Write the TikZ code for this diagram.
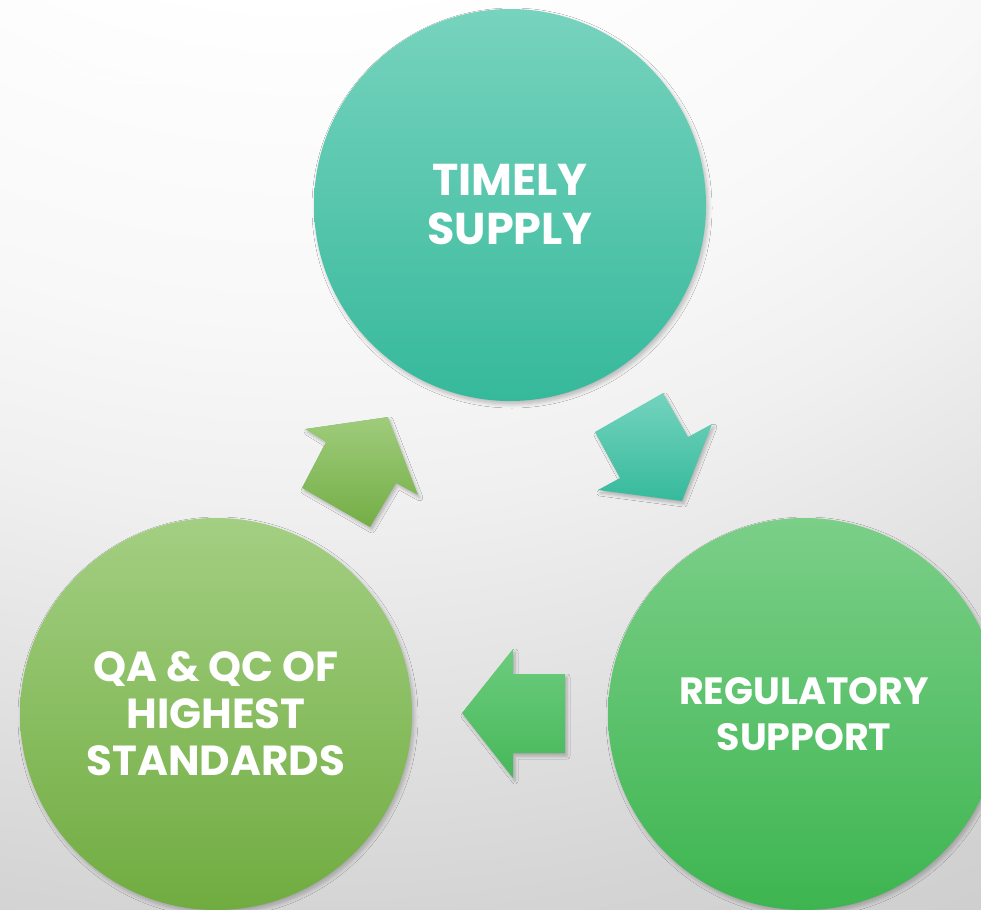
\documentclass[tikz,border=0pt]{standalone}
\usepackage{fontspec}
\setmainfont{Poppins}[BoldFont={* Bold}]
\usetikzlibrary{shadows.blur}
\definecolor{tealA}{HTML}{77D3BE}
\definecolor{tealB}{HTML}{36B99B}
\definecolor{greenA}{HTML}{7BCF88}
\definecolor{greenB}{HTML}{3DB550}
\definecolor{limeA}{HTML}{A3CF82}
\definecolor{limeB}{HTML}{70AC40}
\definecolor{upA}{HTML}{9FCC7C}
\definecolor{upB}{HTML}{74AE45}
\definecolor{dnA}{HTML}{74D3BE}
\definecolor{dnB}{HTML}{36BA9C}
\definecolor{lfA}{HTML}{6CCC7D}
\definecolor{lfB}{HTML}{46B85A}
\definecolor{bg0}{HTML}{FDFDFD}
\definecolor{bg1}{HTML}{F8F8F8}
\definecolor{bg2}{HTML}{F0F0F0}
\definecolor{bg3}{HTML}{E2E2E2}
\definecolor{bg4}{HTML}{D4D4D4}
\definecolor{bg5}{HTML}{CDCDCD}
\pgfdeclareradialshading{bgshade}{\pgfpoint{0bp}{0bp}}{%
  color(0bp)=(white); color(8.8bp)=(white); color(9.85bp)=(bg0);
  color(13.5bp)=(bg1); color(16.2bp)=(bg2); color(19.3bp)=(bg3);
  color(22.4bp)=(bg4); color(25bp)=(bg5); color(50bp)=(bg5)}
\tikzset{
  bubble/.style={circle, minimum size=392pt, inner sep=0pt, align=center,
    text=white, font=\bfseries\fontsize{42}{47}\selectfont,
    blur shadow={shadow xshift=2pt, shadow yshift=-3pt, shadow blur steps=6, shadow blur radius=4pt, shadow opacity=25}},
  blockarrow/.style={blur shadow={shadow xshift=2pt, shadow yshift=-3pt, shadow blur steps=5, shadow blur radius=3pt, shadow opacity=25}}
}
\begin{document}
\begin{tikzpicture}[x=1pt,y=-1pt]
\useasboundingbox (0,0) rectangle (981,909);
\clip (0,0) rectangle (981,909);
\shade[shading=bgshade] (300,-600) circle (1700);
\draw[white, line width=3pt, opacity=0.45] (7,0) .. controls (60,110) and (215,110) .. (270,0);
% circles
\node[bubble, top color=tealA, bottom color=tealB, font=\bfseries\fontsize{44.5}{49}\selectfont] (timely) at (510,205) {TIMELY\\SUPPLY};
\node[bubble, top color=greenA, bottom color=greenB, font=\bfseries\fontsize{38}{46}\selectfont] (reg) at (804,714) {REGULATORY\\SUPPORT};
\node[bubble, top color=limeA, bottom color=limeB] (qa) at (216,714) {QA \& QC OF\\HIGHEST\\STANDARDS};
% block arrows
\shade[blockarrow, top color=upA, bottom color=upB]
  (388,417) -- (418,495) -- (396,483) -- (370,527) -- (302,488) -- (326,442) -- (305,429) -- cycle;
\shade[blockarrow, top color=dnA, bottom color=dnB]
  (663,393) -- (688,437) -- (712,424) -- (682,501) -- (598,490) -- (620,478) -- (595,432) -- cycle;
\shade[blockarrow, top color=lfA, bottom color=lfB]
  (462,713) -- (513,649) -- (513,674) -- (565,674) -- (565,753) -- (513,753) -- (513,778) -- cycle;
\end{tikzpicture}
\end{document}
